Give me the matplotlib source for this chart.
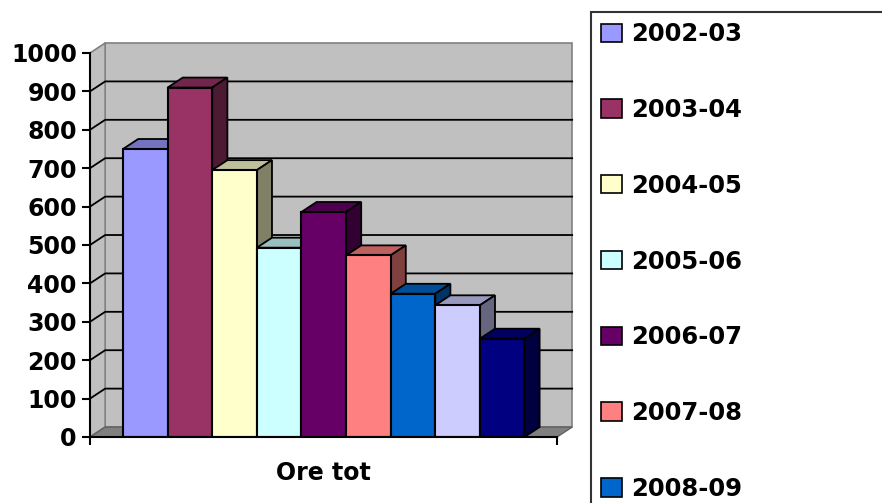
import numpy as np
import matplotlib
matplotlib.use("Agg")
import matplotlib.pyplot as plt
from matplotlib.patches import Polygon, Patch
from matplotlib.colors import to_rgb

# data (ore totali per anno)
seasons = ['2002-03', '2003-04', '2004-05', '2005-06', '2006-07',
           '2007-08', '2008-09', '2009-10', '2010-11']
hours = [750, 910, 695, 493, 586, 473, 373, 343, 256]
bar_colors = ['#9999FF', '#993366', '#FFFFCC', '#CCFFFF', '#660066',
              '#FF8080', '#0066CC', '#CCCCFF', '#000080']
category = 'Ore tot'
yticks = list(range(0, 1001, 100))

plt.rcParams['font.family'] = 'DejaVu Sans'
plt.rcParams['font.weight'] = 'bold'

fig = plt.figure(figsize=(8.82, 5.03), dpi=100)
ax = fig.add_axes([90/882, 66/503, 467/882, 384/503])

xl, xr = -1.24, 9.23
dx, dy = 0.34, 26  # depth offset in data units
ax.set_xlim(xl, xr)
ax.set_ylim(0, 1000)

# back wall, side wall, floor
wall = '#C0C0C0'
ax.add_patch(Polygon([(xl+dx, dy), (xr+dx, dy), (xr+dx, 1000+dy), (xl+dx, 1000+dy)],
                     closed=True, facecolor=wall, edgecolor='#808080', lw=1.2,
                     zorder=0.5, clip_on=False))
ax.add_patch(Polygon([(xl, 0), (xl+dx, dy), (xl+dx, 1000+dy), (xl, 1000)],
                     closed=True, facecolor=wall, edgecolor='#808080', lw=1.2,
                     zorder=0.5, clip_on=False))
ax.add_patch(Polygon([(xl, 0), (xl+dx, dy), (xr+dx, dy), (xr, 0)],
                     closed=True, facecolor='#808080', edgecolor='#606060', lw=1.0,
                     zorder=0.6, clip_on=False))
for t in yticks[1:-1]:
    ax.plot([xl, xl+dx, xr+dx], [t, t+dy, t+dy], color='black', lw=1.3,
            zorder=0.7, clip_on=False)

# bars: top, side, front
x = np.arange(len(hours))
for i, (xi, v, c) in enumerate(zip(x, hours, bar_colors)):
    rgb = np.array(to_rgb(c))
    L, R = xi - 0.5, xi + 0.5
    ax.add_patch(Polygon([(L, v), (L+dx, v+dy), (R+dx, v+dy), (R, v)], closed=True,
                         facecolor=rgb*0.75, edgecolor='black', lw=1.3,
                         zorder=3+i, clip_on=False))
    ax.add_patch(Polygon([(R, 0), (R+dx, dy), (R+dx, v+dy), (R, v)], closed=True,
                         facecolor=rgb*0.5, edgecolor='black', lw=1.3,
                         zorder=3+i, clip_on=False))
bars = ax.bar(x, hours, width=1.0, color=bar_colors, edgecolor='black', lw=1.5)
for i, b in enumerate(bars):
    b.set_zorder(3.5+i)

for s in ['top', 'right']:
    ax.spines[s].set_visible(False)
for s in ['left', 'bottom']:
    ax.spines[s].set_linewidth(1.5)
    ax.spines[s].set_zorder(20)

ax.set_yticks(yticks)
ax.set_yticklabels([str(t) for t in yticks], fontsize=17, fontweight='bold')
ax.set_xticks([xl, xr])
ax.set_xticklabels(['', ''])
ax.tick_params(axis='both', direction='out', length=6, width=1.5, pad=3.5)
ax.text(x.mean(), -95, category, ha='center', va='center', fontsize=17,
        fontweight='bold')

# legend runs off the bottom/right of the figure like the original
handles = [Patch(facecolor=c, edgecolor='black', lw=1.2) for c in bar_colors]
leg = fig.legend(handles, seasons, loc='upper left',
                 bbox_to_anchor=(591/882, 0, 330/882, 1 - 12/503), mode='expand',
                 fancybox=False, frameon=True, edgecolor='black',
                 prop={'size': 17.5, 'weight': 'bold'}, handlelength=0.86,
                 handleheight=0.78, handletextpad=0.38, labelspacing=2.13,
                 borderpad=0.42, borderaxespad=0)
leg.get_frame().set_linewidth(1.5)

fig.savefig('out.png', dpi=100)
